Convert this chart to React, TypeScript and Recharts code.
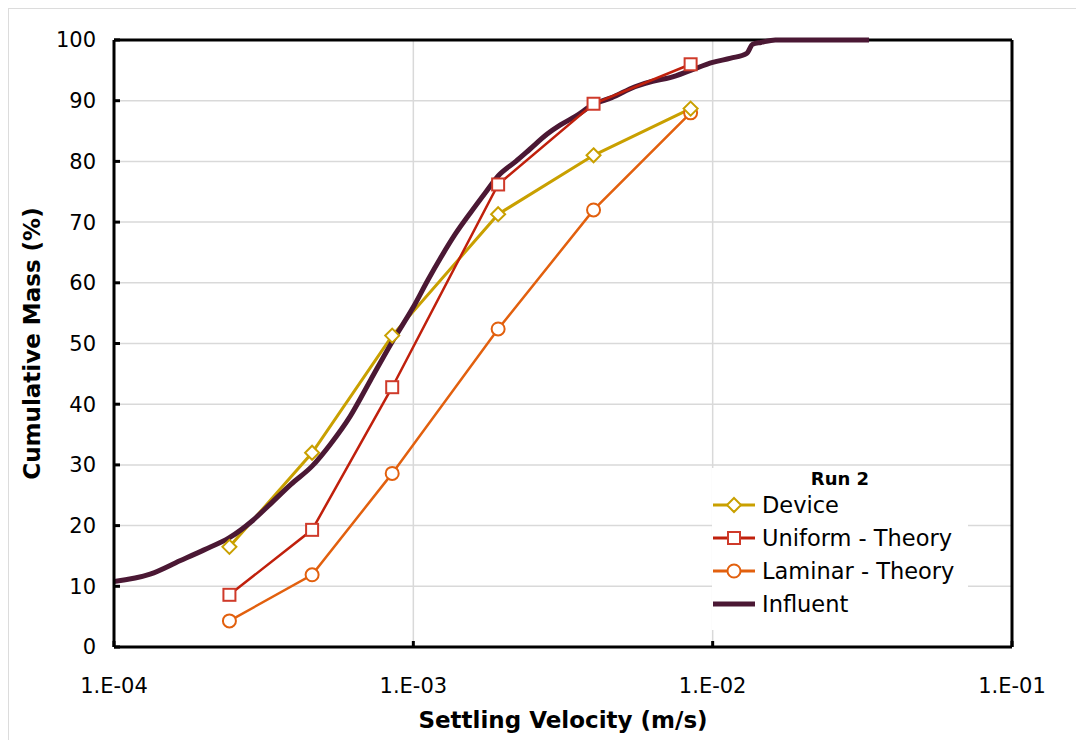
import { LineChart, Line, XAxis, YAxis, CartesianGrid, ReferenceLine, Legend } from 'recharts'

// sampled settling velocities (m/s) shared by the three measured/theory series
const sampleVelocity = [2.43e-4, 4.59e-4, 8.5e-4, 1.92e-3, 4.0e-3, 8.44e-3]
const deviceMass = [16.5, 32, 51.3, 71.3, 81, 88.7]
const uniformMass = [8.6, 19.3, 42.8, 76.2, 89.5, 96]
const laminarMass = [4.3, 11.9, 28.6, 52.4, 72, 88]

// influent distribution curve
const influentVelocity = [
  1e-4, 1.32e-4, 1.66e-4, 2.0e-4, 2.43e-4, 2.9e-4, 3.32e-4, 3.9e-4, 4.59e-4, 5.3e-4,
  6.15e-4, 7.2e-4, 8.5e-4, 1.0e-3, 1.12e-3, 1.23e-3, 1.38e-3, 1.55e-3, 1.75e-3, 1.92e-3,
  2.2e-3, 2.45e-3, 2.8e-3, 3.1e-3, 3.5e-3, 4.0e-3, 4.6e-3, 5.5e-3, 6.3e-3, 7.2e-3,
  8.44e-3, 1.0e-2, 1.15e-2, 1.3e-2, 1.36e-2, 1.45e-2, 1.62e-2, 3.33e-2,
]
const influentMass = [
  10.8, 12, 14.2, 16, 18, 20.8, 23.5, 26.8, 29.8, 33.5,
  38, 44, 50.3, 56, 60.5, 64, 68, 71.5, 75, 77.6,
  80, 82, 84.5, 86, 87.5, 89.4, 90.5, 92.3, 93.2, 93.8,
  95, 96.3, 97, 97.8, 99.3, 99.6, 100, 100,
]

const xTicks = [1e-4, 1e-3, 1e-2, 1e-1]
const yTicks = [0, 10, 20, 30, 40, 50, 60, 70, 80, 90, 100]

const legendTitle = 'Run 2'
const seriesNames = ['Device', 'Uniform - Theory', 'Laminar - Theory', 'Influent']

const COLORS = {
  device: '#c9a000',
  uniform: '#c0200c',
  uniformMarker: '#cf3a2a',
  laminar: '#e2600e',
  influent: '#4b1834',
}

const FONT = '"DejaVu Sans", Verdana, sans-serif'

const zip = (xs: number[], ys: number[]) => xs.map((x, i) => ({ x, y: ys[i] }))
const deviceData = zip(sampleVelocity, deviceMass)
const uniformData = zip(sampleVelocity, uniformMass)
const laminarData = zip(sampleVelocity, laminarMass)
const influentData = zip(influentVelocity, influentMass)

const formatSci = (v: number) => {
  const exp = Math.round(Math.log10(v))
  const sign = exp < 0 ? '-' : '+'
  return `1.E${sign}${String(Math.abs(exp)).padStart(2, '0')}`
}

function Diamond({ cx, cy, stroke, size = 7 }: any) {
  if (cx == null || cy == null) return null
  return (
    <path
      d={`M${cx},${cy - size}L${cx + size},${cy}L${cx},${cy + size}L${cx - size},${cy}Z`}
      fill="#fff"
      stroke={stroke}
      strokeWidth={2}
    />
  )
}

function Square({ cx, cy, stroke, size = 6 }: any) {
  if (cx == null || cy == null) return null
  return <rect x={cx - size} y={cy - size} width={size * 2} height={size * 2} fill="#fff" stroke={stroke} strokeWidth={2} />
}

function Circle({ cx, cy, stroke, r = 6.5 }: any) {
  if (cx == null || cy == null) return null
  return <circle cx={cx} cy={cy} r={r} fill="#fff" stroke={stroke} strokeWidth={2} />
}

function LegendBox() {
  const rows = [
    { name: seriesNames[0], color: COLORS.device, marker: (x: number, y: number) => <Diamond cx={x} cy={y} stroke={COLORS.device} /> },
    { name: seriesNames[1], color: COLORS.uniform, marker: (x: number, y: number) => <Square cx={x} cy={y} stroke={COLORS.uniformMarker} /> },
    { name: seriesNames[2], color: COLORS.laminar, marker: (x: number, y: number) => <Circle cx={x} cy={y} stroke={COLORS.laminar} /> },
    { name: seriesNames[3], color: COLORS.influent, marker: null },
  ]
  return (
    <svg width={256} height={162} style={{ display: 'block', background: '#fff' }}>
      <text x={128} y={17} textAnchor="middle" fontFamily={FONT} fontWeight="bold" fontSize={18} fill="#000">
        {legendTitle}
      </text>
      {rows.map((r, i) => {
        const y = 37 + i * 33
        return (
          <g key={r.name}>
            <line x1={1} x2={43} y1={y} y2={y} stroke={r.color} strokeWidth={r.marker ? 3 : 5} />
            {r.marker && r.marker(22, y)}
            <text x={50} y={y + 8} fontFamily={FONT} fontSize={22.5} fill="#000">
              {r.name}
            </text>
          </g>
        )
      })}
    </svg>
  )
}

export default function App() {
  return (
    <div style={{ width: 1076, height: 732, borderTop: '1px solid #dcdcdc', borderLeft: '1px solid #dcdcdc', background: '#fff' }}>
      <LineChart width={1075} height={731} margin={{ top: 31, right: 72, bottom: 0, left: 0 }}>
        <CartesianGrid stroke="#d9d9d9" strokeWidth={1.5} />
        <XAxis
          type="number"
          dataKey="x"
          scale="log"
          domain={[1e-4, 1e-1]}
          ticks={xTicks}
          allowDataOverflow
          tickFormatter={formatSci}
          tick={{ fill: '#000', fontSize: 21, fontFamily: FONT }}
          axisLine={{ stroke: '#000', strokeWidth: 3 }}
          tickLine={{ stroke: '#000', strokeWidth: 3 }}
          tickSize={-6}
          tickMargin={37}
          height={93}
          label={({ viewBox }: any) => (
            <text
              x={viewBox.x + viewBox.width / 2}
              y={viewBox.y + 81}
              textAnchor="middle"
              fontFamily={FONT}
              fontWeight="bold"
              fontSize={23}
              fill="#000"
            >
              Settling Velocity (m/s)
            </text>
          )}
        />
        <YAxis
          type="number"
          domain={[0, 100]}
          ticks={yTicks}
          tick={{ fill: '#000', fontSize: 21, fontFamily: FONT }}
          axisLine={{ stroke: '#000', strokeWidth: 3 }}
          tickLine={{ stroke: '#000', strokeWidth: 3 }}
          tickSize={-6}
          tickMargin={24}
          width={105}
          label={({ viewBox }: any) => {
            const cx = 23
            const cy = viewBox.y + viewBox.height / 2
            return (
              <text
                x={cx}
                y={cy}
                transform={`rotate(-90, ${cx}, ${cy})`}
                textAnchor="middle"
                dominantBaseline="central"
                fontFamily={FONT}
                fontWeight="bold"
                fontSize={23}
                fill="#000"
              >
                Cumulative Mass (%)
              </text>
            )
          }}
        />
        <ReferenceLine y={100} stroke="#000" strokeWidth={3} />
        <ReferenceLine x={1e-1} stroke="#000" strokeWidth={3} />
        <Line
          data={laminarData}
          dataKey="y"
          name={seriesNames[2]}
          stroke={COLORS.laminar}
          strokeWidth={2.5}
          isAnimationActive={false}
          dot={(p: any) => <Circle key={`l${p.index}`} cx={p.cx} cy={p.cy} stroke={COLORS.laminar} />}
        />
        <Line
          data={deviceData}
          dataKey="y"
          name={seriesNames[0]}
          stroke={COLORS.device}
          strokeWidth={3}
          isAnimationActive={false}
          dot={(p: any) => <Diamond key={`d${p.index}`} cx={p.cx} cy={p.cy} stroke={COLORS.device} />}
        />
        <Line
          data={influentData}
          dataKey="y"
          name={seriesNames[3]}
          type="monotone"
          stroke={COLORS.influent}
          strokeWidth={5}
          dot={false}
          isAnimationActive={false}
        />
        <Line
          data={uniformData}
          dataKey="y"
          name={seriesNames[1]}
          stroke={COLORS.uniform}
          strokeWidth={2.5}
          isAnimationActive={false}
          dot={(p: any) => <Square key={`u${p.index}`} cx={p.cx} cy={p.cy} stroke={COLORS.uniformMarker} />}
        />
        <Legend
          layout="vertical"
          align="center"
          verticalAlign="middle"
          content={() => <LegendBox />}
          wrapperStyle={{ left: 703, top: 459, width: 256, height: 162 }}
        />
      </LineChart>
    </div>
  )
}
